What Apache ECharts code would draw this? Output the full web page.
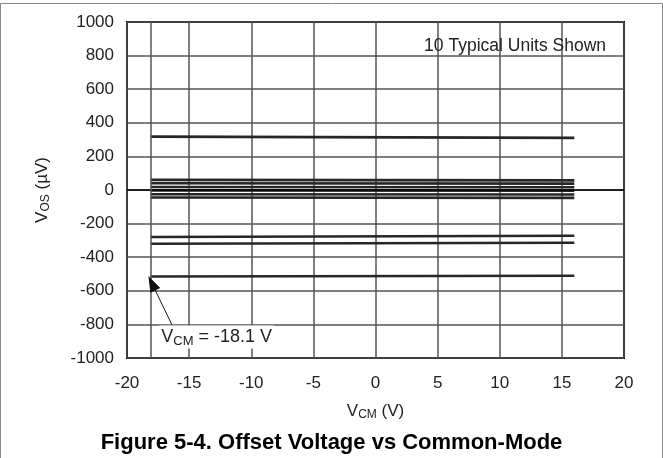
<!DOCTYPE html>
<html>
<head>
<meta charset="utf-8">
<script src="https://cdn.jsdelivr.net/npm/echarts@6/dist/echarts.min.js"></script>
<style>html,body{margin:0;padding:0;background:#fff}#c{width:663px;height:458px}</style>
</head>
<body>
<div id="c"></div>
<script>
// V_CM range of each unit's sweep (V)
var vcmStart = -18.1;
var vcmEnd = 16;
// Offset voltage at start / end of sweep for each of the 10 units (µV)
var vosStart = [318, 60, 40, 18, -2, -25, -45, -280, -320, -515];
var vosEnd   = [310, 57, 38, 16, -4, -27, -47, -272, -314, -510];
// axis ticks
var xMin = -20, xMax = 20, xStep = 5;
var yMin = -1000, yMax = 1000, yStep = 200;
// annotation
var annotTip = [-18.0, -555];
var annotTail = [-16.4, -800];
var annotText = ['V', 'CM', ' = -18.1 V'];

var FONT = 'Liberation Sans, Arial, sans-serif';
var chart = echarts.init(document.getElementById('c'), null, {renderer: 'canvas'});

var series = vosStart.map(function (v, i) {
  return {
    type: 'line',
    data: [[vcmStart, v], [vcmEnd, vosEnd[i]]],
    symbol: 'none',
    lineStyle: {color: '#262626', width: 2.6},
    silent: true,
    z: 3
  };
});

series.push({
  type: 'line',
  data: [],
  symbol: 'none',
  markLine: {
    silent: true,
    symbol: 'none',
    label: {show: false},
    data: [
      {yAxis: 0, lineStyle: {color: '#000', width: 1.5, type: 'solid'}},
      {xAxis: vcmStart, lineStyle: {color: '#555', width: 1.5, type: 'solid'}}
    ]
  },
  z: 2
});

series.push({
  type: 'line',
  data: [],
  symbol: 'none',
  markLine: {
    silent: true,
    symbol: ['none', 'triangle'],
    symbolSize: [11, 16],
    label: {show: false},
    lineStyle: {color: '#111', width: 1, type: 'solid'},
    data: [[{coord: annotTail}, {coord: annotTip}]]
  },
  z: 5
});

var sub = {fontFamily: FONT, fontSize: 12, color: '#222', verticalAlign: 'bottom', padding: [7, 0, 0, 0]};
var base = {fontFamily: FONT, fontSize: 17, color: '#222'};

chart.setOption({
  animation: false,
  backgroundColor: '#fff',
  title: [
    {
      text: 'Figure 5-4. Offset Voltage vs Common-Mode',
      left: 'center', top: 427,
      textStyle: {fontFamily: FONT, fontSize: 22, fontWeight: 'bold', color: '#000'}
    },
    {
      text: '10 Typical Units Shown',
      right: 52, top: 32,
      textStyle: {fontFamily: FONT, fontSize: 17.5, fontWeight: 'normal', color: '#222'}
    }
  ],
  grid: {left: 127, right: 39, top: 22, bottom: 100, show: true, borderColor: '#000', borderWidth: 2, backgroundColor: 'transparent'},
  xAxis: {
    type: 'value', min: xMin, max: xMax, interval: xStep,
    axisLine: {show: false}, axisTick: {show: false},
    splitLine: {show: true, lineStyle: {color: '#555', width: 1.5}},
    axisLabel: {fontFamily: FONT, fontSize: 17, color: '#222', margin: 17},
    name: '{v|V}{s|CM}{v| (V)}',
    nameLocation: 'middle', nameGap: 44,
    nameTextStyle: {rich: {v: base, s: sub}}
  },
  yAxis: {
    type: 'value', min: yMin, max: yMax, interval: yStep,
    axisLine: {show: false}, axisTick: {show: false},
    splitLine: {show: true, lineStyle: {color: '#555', width: 1.5}},
    axisLabel: {fontFamily: FONT, fontSize: 17, color: '#222', margin: 13,
      formatter: function (v) { return String(v); }},
    name: '{v|V}{s|OS}{v| (µV)}',
    nameLocation: 'middle', nameGap: 75, nameRotate: 90,
    nameTextStyle: {rich: {v: base, s: sub}}
  },
  series: series
});

var p = chart.convertToPixel({gridIndex: 0}, [-17.4, -875]);
chart.setOption({
  graphic: [
    {
      type: 'rect', silent: true, z: 100,
      shape: {x: 0.5, y: 3.5, width: 662, height: 500},
      style: {fill: 'none', stroke: '#888', lineWidth: 1}
    },
    {
      type: 'text', silent: true, z: 100,
      x: p[0], y: p[1],
      style: {
        text: '{v|' + annotText[0] + '}{s|' + annotText[1] + '}{v|' + annotText[2] + '}',
        rich: {
          v: {fontFamily: FONT, fontSize: 18, fill: '#222'},
          s: {fontFamily: FONT, fontSize: 13, fill: '#222', verticalAlign: 'bottom', padding: [8, 0, 0, 0]}
        },
        verticalAlign: 'middle', align: 'left',
        backgroundColor: '#fff', padding: [1, 2, 1, 2]
      }
    }
  ]
});
</script>
</body>
</html>
